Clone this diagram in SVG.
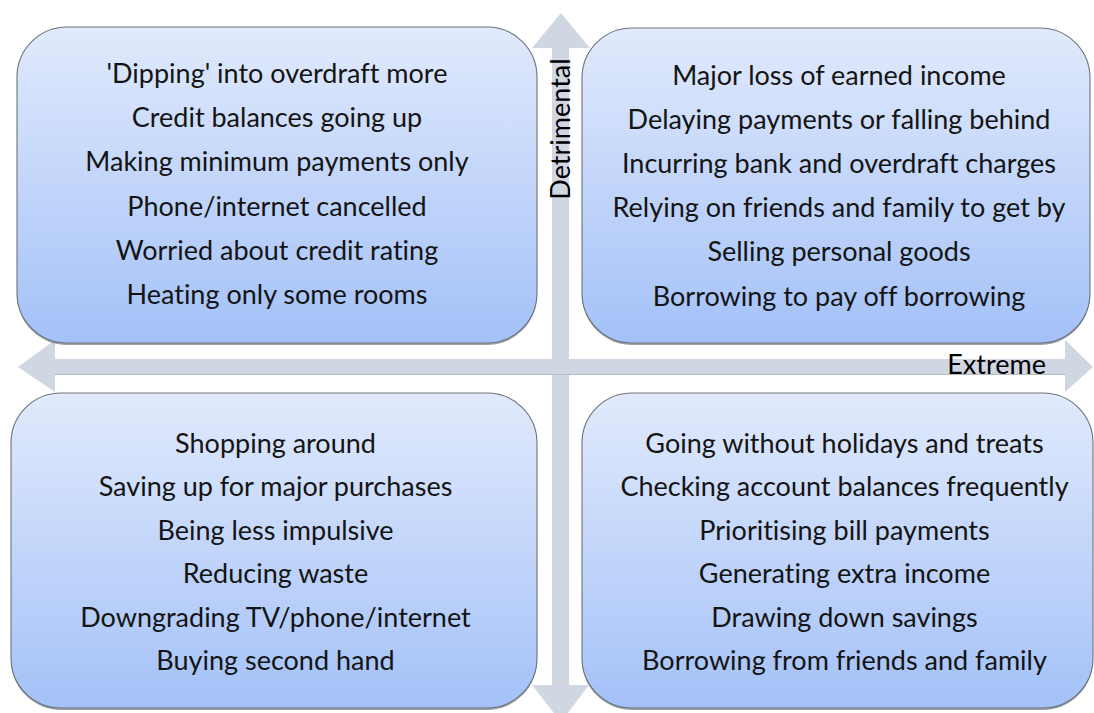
<svg xmlns="http://www.w3.org/2000/svg" width="1094" height="713" viewBox="0 0 1094 713">
<defs>
<linearGradient id="boxFill" x1="0" y1="0" x2="0" y2="1">
<stop offset="0" stop-color="#e1eafc"/>
<stop offset="1" stop-color="#a3c1f8"/>
</linearGradient>
<style>
.box{fill:url(#boxFill);stroke:#6e7378;stroke-width:1.1}
.shadow{fill:#4b5564;opacity:0.55}
.arrow{fill:#d0d6e2}
.item{font-family:Lato,"Liberation Sans",sans-serif;font-size:27px;fill:#141414;text-anchor:middle;font-variant-ligatures:none}
.axis{font-family:Lato,"Liberation Sans",sans-serif;font-size:27px;fill:#000;font-variant-ligatures:none}
</style>
</defs>
<rect width="1094" height="713" fill="#ffffff"/>
<g id="connectors">
<rect class="arrow" x="552" y="46" width="17" height="642"/>
<polygon class="arrow" points="561,13 590,48 532,48"/>
<polygon class="arrow" points="561,722 532,685 589,685"/>
<rect class="arrow" x="53" y="359" width="1014" height="15"/>
<line x1="55" y1="374.5" x2="1065" y2="374.5" stroke="#b6bbc4" stroke-width="1"/>
<polygon class="arrow" points="18,367 55,340 55,392"/>
<polygon class="arrow" points="1093,367 1065,340 1065,392"/>
</g>
<g id="axis-detrimental">
<text class="axis" text-anchor="middle" transform="translate(570,129) rotate(-90)">Detrimental</text>
</g>
<g id="axis-extreme">
<text class="axis" x="1046" y="374" text-anchor="end">Extreme</text>
</g>
<g id="node-top-left">
<rect class="shadow" x="17" y="29" width="520" height="316" rx="50"/>
<rect class="box" x="17" y="27" width="520" height="316" rx="50"/>
<text class="item" x="277" y="83">'Dipping' into overdraft more</text>
<text class="item" x="277" y="127.2">Credit balances going up</text>
<text class="item" x="277" y="171.4">Making minimum payments only</text>
<text class="item" x="277" y="215.6">Phone/internet cancelled</text>
<text class="item" x="277" y="259.8">Worried about credit rating</text>
<text class="item" x="277" y="304">Heating only some rooms</text>
</g>
<g id="node-top-right">
<rect class="shadow" x="582" y="30" width="508" height="315" rx="50"/>
<rect class="box" x="582" y="28" width="508" height="315" rx="50"/>
<text class="item" x="839" y="84.5">Major loss of earned income</text>
<text class="item" x="839" y="128.7">Delaying payments or falling behind</text>
<text class="item" x="839" y="172.9">Incurring bank and overdraft charges</text>
<text class="item" x="839" y="217.1">Relying on friends and family to get by</text>
<text class="item" x="839" y="261.3">Selling personal goods</text>
<text class="item" x="839" y="305.5">Borrowing to pay off borrowing</text>
</g>
<g id="node-bottom-left">
<rect class="shadow" x="11" y="395" width="526" height="315" rx="50"/>
<rect class="box" x="11" y="393" width="526" height="315" rx="50"/>
<text class="item" x="275.5" y="453">Shopping around</text>
<text class="item" x="275.5" y="496.4">Saving up for major purchases</text>
<text class="item" x="275.5" y="539.8">Being less impulsive</text>
<text class="item" x="275.5" y="583.2">Reducing waste</text>
<text class="item" x="275.5" y="626.6">Downgrading TV/phone/internet</text>
<text class="item" x="275.5" y="670">Buying second hand</text>
</g>
<g id="node-bottom-right">
<rect class="shadow" x="582" y="395" width="511" height="315" rx="50"/>
<rect class="box" x="582" y="393" width="511" height="315" rx="50"/>
<text class="item" x="844.5" y="453">Going without holidays and treats</text>
<text class="item" x="844.5" y="496.4">Checking account balances frequently</text>
<text class="item" x="844.5" y="539.8">Prioritising bill payments</text>
<text class="item" x="844.5" y="583.2">Generating extra income</text>
<text class="item" x="844.5" y="626.6">Drawing down savings</text>
<text class="item" x="844.5" y="670">Borrowing from friends and family</text>
</g>
</svg>
